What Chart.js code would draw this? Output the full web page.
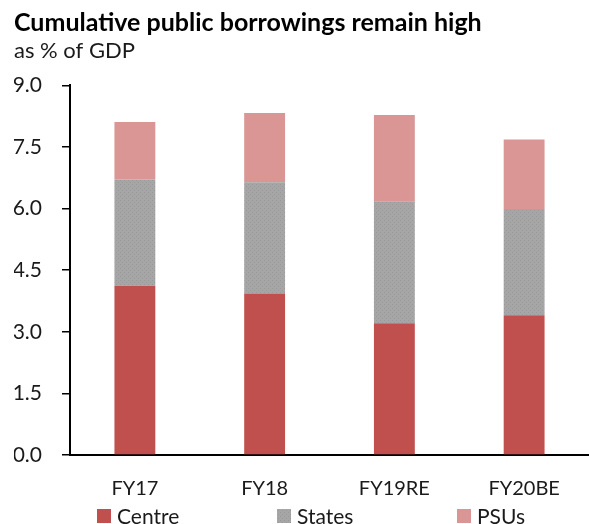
<!DOCTYPE html>
<html>
<head>
<meta charset="utf-8">
<script src="https://cdn.jsdelivr.net/npm/chart.js@4"></script>
<style>
  html, body { margin: 0; padding: 0; background: #fff; }
  #wrap { width: 589px; height: 524px; }
</style>
</head>
<body>
<div id="wrap"><canvas id="borrowChart" width="589" height="524"></canvas></div>
<script>
var years = ['FY17', 'FY18', 'FY19RE', 'FY20BE'];
var centre = [4.12, 3.93, 3.21, 3.40];
var states = [2.59, 2.71, 2.97, 2.59];
var psus = [1.40, 1.69, 2.10, 1.69];
var yTicks = [0, 1.5, 3.0, 4.5, 6.0, 7.5, 9.0];

// dotted grey fill for the States series
function dotPattern() {
    var c = document.createElement('canvas');
    c.width = 4; c.height = 4;
    var g = c.getContext('2d');
    g.fillStyle = '#a6a6a6';
    g.fillRect(0, 0, 4, 4);
    g.fillStyle = '#989898';
    g.fillRect(0, 0, 1, 1);
    g.fillRect(2, 2, 1, 1);
    return g.createPattern(c, 'repeat');
}

var font = 'Lato, "Open Sans", sans-serif';

// legend spread out under the axis like the excel one
var spreadLegend = {
    id: 'spreadLegend',
    afterDraw: function(chart) {
        var c = chart.ctx;
        var a = chart.chartArea;
        var y = chart.height - 8;
        c.save();
        c.font = '21px ' + font;
        c.textBaseline = 'middle';
        chart.data.datasets.forEach(function(ds, i) {
            var x = a.left + 27 + i * 180;
            c.fillStyle = ds.backgroundColor;
            c.fillRect(x, y - 7, 14, 14);
            c.fillStyle = '#1a1a1a';
            c.fillText(ds.label, x + 20, y + 1);
        });
        c.restore();
    }
};

// no overhang padding from the tick labels, plot runs to the edge
function noOverhang(axis) {
    axis.paddingLeft = 0;
    axis.paddingRight = 0;
    axis.paddingTop = 0;
    axis.paddingBottom = 0;
}

document.addEventListener('DOMContentLoaded', function() {
    Chart.defaults.font.family = font;
    Chart.defaults.color = '#1a1a1a';

    var ctx = document.getElementById('borrowChart').getContext('2d');
    var chart = new Chart(ctx, {
        type: 'bar',
        data: {
            labels: years,
            datasets: [
                { label: 'Centre', data: centre, backgroundColor: '#c0504d' },
                { label: 'States', data: states, backgroundColor: dotPattern() },
                { label: 'PSUs', data: psus, backgroundColor: '#d99694' }
            ]
        },
        plugins: [spreadLegend],
        options: {
            responsive: false,
            animation: false,
            categoryPercentage: 1,
            barPercentage: 0.315,
            layout: { padding: { left: 14, right: 0, top: 6, bottom: 9 } },
            plugins: {
                title: {
                    display: true,
                    text: 'Cumulative public borrowings remain high',
                    align: 'start',
                    font: { size: 25, weight: 'bold' },
                    color: '#000',
                    padding: { top: 2, bottom: 0 }
                },
                subtitle: {
                    display: true,
                    text: 'as % of GDP',
                    align: 'start',
                    font: { size: 22 },
                    color: '#1a1a1a',
                    padding: { bottom: 21 }
                },
                legend: { display: false },
                tooltip: { enabled: false }
            },
            scales: {
                x: {
                    stacked: true,
                    afterFit: noOverhang,
                    grid: { display: false },
                    border: { display: true, color: '#000', width: 2 },
                    ticks: { font: { size: 20 }, padding: 14, color: '#1a1a1a' }
                },
                y: {
                    stacked: true,
                    min: 0,
                    max: 9,
                    afterBuildTicks: function(axis) {
                        axis.ticks = yTicks.map(function(v) { return { value: v }; });
                    },
                    afterFit: function(axis) {
                        noOverhang(axis);
                        axis.width = 56;
                    },
                    grid: {
                        display: true,
                        drawOnChartArea: false,
                        drawTicks: true,
                        tickLength: 8,
                        color: '#000',
                        lineWidth: 1.5
                    },
                    border: { display: true, color: '#000', width: 2 },
                    ticks: {
                        autoSkip: false,
                        font: { size: 21 },
                        padding: 20,
                        color: '#1a1a1a',
                        callback: function(v) { return Number(v).toFixed(1); }
                    }
                }
            }
        }
    });
});
</script>
</body>
</html>
